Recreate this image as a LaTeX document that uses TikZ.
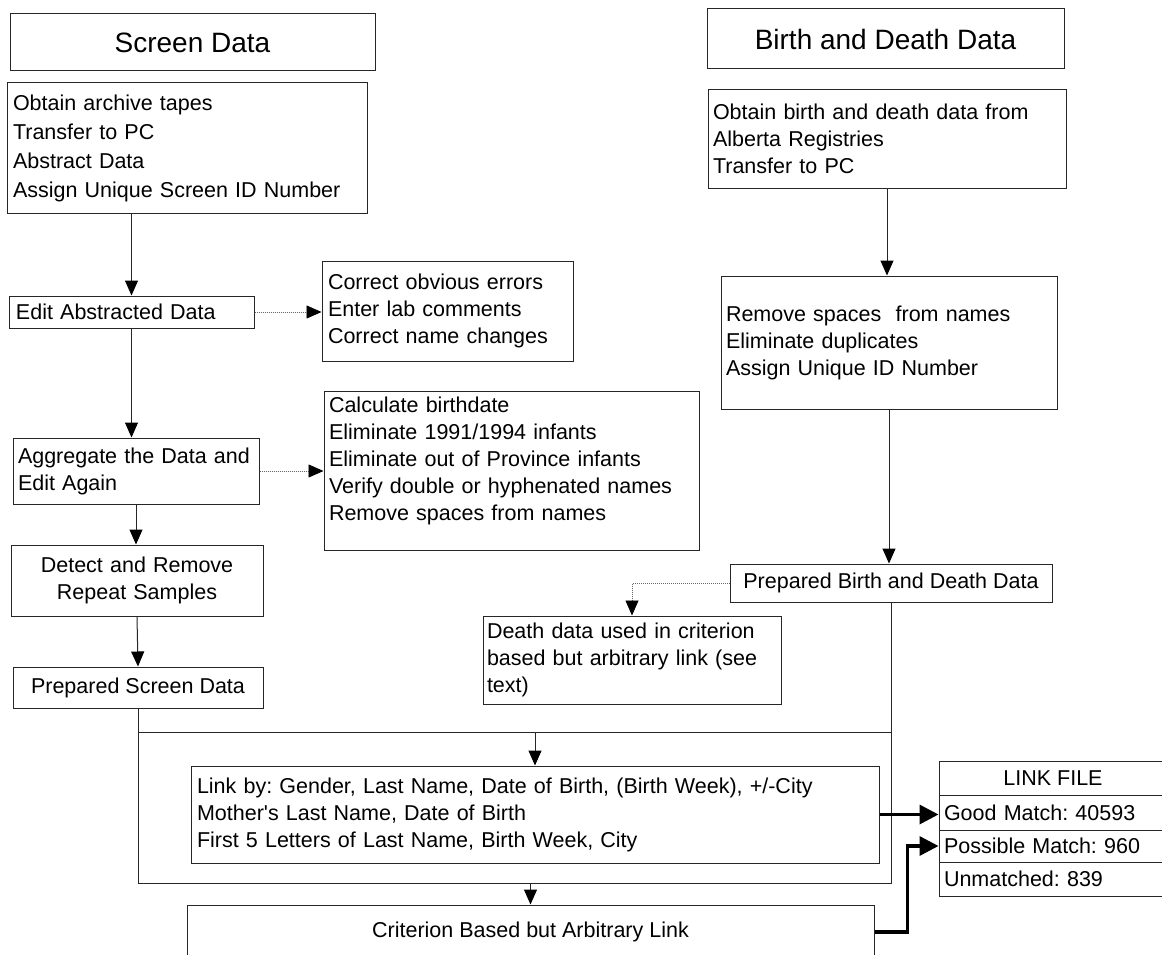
\documentclass[tikz,border=0pt]{standalone}
\usepackage{fontspec}
\setmainfont{Liberation Sans}
\usetikzlibrary{arrows.meta,calc}
\newcommand{\straightq}{\XeTeXglyph\XeTeXcharglyph"0027\relax}
\begin{document}
\frenchspacing
\begin{tikzpicture}[x=1pt,y=-1pt,
  bx/.style={draw=black!85, line width=1pt, inner sep=0pt, font=\fontsize{21.5}{27}\selectfont},
  ttl/.style={bx, font=\fontsize{28}{34}\selectfont},
  conn/.style={draw=black!85, line width=1pt},
  arr/.style={conn, -{Triangle[length=15pt,width=13pt,fill=black,color=black]}},
  dotarr/.style={draw=black!60, line width=0.8pt, dash pattern=on 1pt off 1pt, -{Triangle[length=15pt,width=13pt,fill=black,color=black]}},
  thickarr/.style={draw=black, line width=3.5pt, -{Triangle[length=19pt,width=19pt]}}
]
\clip (0,0) rectangle (1162,955);
\fill[white] (0,0) rectangle (1162,955);

% left column
\node[ttl, minimum width=365pt, minimum height=57pt] (scrtitle) at (192.5,42.5) {Screen Data};
\node[bx, minimum width=360pt, minimum height=130pt, inner xsep=6pt, text width=348pt, align=left, font=\fontsize{21.5}{29}\selectfont] (scrsteps) at (187,148)
  {Obtain archive tapes\\Transfer to PC\\Abstract Data\\Assign Unique Screen ID Number};
\node[bx, minimum width=245pt, minimum height=32pt, inner xsep=7pt, text width=231pt, align=left] (edit) at (131.5,312) {Edit Abstracted Data};
\node[bx, minimum width=251pt, minimum height=100pt, inner xsep=6pt, text width=239pt, align=left] (correct) at (447.5,311)
  {Correct obvious errors\\Enter lab comments\\Correct name changes};
\node[bx, minimum width=246pt, minimum height=66pt, inner xsep=5pt, text width=236pt, align=left] (aggregate) at (136,471)
  {Aggregate the Data and\\Edit Again};
\node[bx, minimum width=375pt, minimum height=159pt, inner xsep=5pt, text width=365pt, align=left] (calc) at (511.5,470.5)
  {Calculate birthdate\\Eliminate 1991/1994 infants\\Eliminate out of Province infants\\Verify double or hyphenated names\\Remove spaces from names\\[-12pt]\strut};
\node[bx, minimum width=252pt, minimum height=71pt, text width=240pt, align=center] (detect) at (137,580.5)
  {Detect and Remove\\Repeat Samples};
\node[bx, minimum width=250pt, minimum height=41pt] (prepscr) at (138,687.5) {Prepared Screen Data};

% right column
\node[ttl, minimum width=357pt, minimum height=60pt] (birthtitle) at (885.5,39) {Birth and Death Data};
\node[bx, minimum width=358pt, minimum height=98pt, inner xsep=5pt, text width=348pt, align=left] (birthsteps) at (887,139)
  {Obtain birth and death data from\\Alberta Registries\\Transfer to PC};
\node[bx, minimum width=336pt, minimum height=133pt, inner xsep=5pt, text width=326pt, align=left] (remove) at (889,342.5)
  {Remove spaces~ from names\\Eliminate duplicates\\Assign Unique ID Number};
\node[bx, minimum width=322pt, minimum height=38pt] (prepbirth) at (891,583) {Prepared Birth and Death Data};
\node[bx, minimum width=298pt, minimum height=88pt, inner xsep=4pt, text width=290pt, align=left] (death) at (632,660)
  {Death data used in criterion\\based but arbitrary link (see\\text)};

% bottom
\node[bx, minimum width=688pt, minimum height=97pt, inner xsep=6pt, text width=676pt, align=left] (link) at (535,814.5)
  {Link by: Gender, Last Name, Date of Birth, (Birth Week), +/-City\\Mother\straightq s Last Name, Date of Birth\\First 5 Letters of Last Name, Birth Week, City};
\node[bx, minimum width=687pt, minimum height=54pt] (crit) at (530.5,932) {Criterion Based but Arbitrary Link};

% link file
\node[bx, minimum width=228pt, minimum height=34pt] (lftitle) at (1053,778) {LINK FILE};
\node[bx, minimum width=228pt, minimum height=35pt, inner xsep=5pt, text width=218pt, align=left] (good) at (1053,812.5) {Good Match: 40593};
\node[bx, minimum width=228pt, minimum height=32pt, inner xsep=5pt, text width=218pt, align=left] (possible) at (1053,846) {Possible Match: 960};
\node[bx, minimum width=228pt, minimum height=34pt, inner xsep=5pt, text width=218pt, align=left] (unmatched) at (1053,879) {Unmatched: 839};

% frame coordinates
\coordinate (tl) at (138,732);
\coordinate (tr) at (891,732);
\coordinate (bl) at (138,883);
\coordinate (br) at (891,883);

% connectors left
\draw[arr] (edit.north |- scrsteps.south) -- (edit.north);
\draw[arr] (edit.south) -- (edit.south |- aggregate.north);
\draw[arr] (aggregate.south) -- (aggregate.south |- detect.north);
\draw[arr] (detect.south) -- (prepscr.north);
\draw[dotarr] (edit.east) -- (edit.east -| correct.west);
\draw[dotarr] (aggregate.east) -- (aggregate.east -| calc.west);

% connectors right
\draw[arr] (birthsteps.south) -- (birthsteps.south |- remove.north);
\draw[arr] (remove.south) -- (remove.south |- prepbirth.north);
\draw[dotarr] (prepbirth.west) -| (death.north);

% frame
\draw[conn] (prepscr.south) -- (bl) -- (br) -- (prepbirth.south);
\draw[conn] (tl) -- (tr);
\draw[arr] (link.north |- tl) -- (link.north);
\draw[arr] (crit.north |- bl) -- (crit.north);

% thick connectors
\draw[thickarr] (link.east) -- (good.west |- link.east);
\draw[thickarr] (crit.east) -- ++(33,0) |- (possible.west);
\end{tikzpicture}
\end{document}
